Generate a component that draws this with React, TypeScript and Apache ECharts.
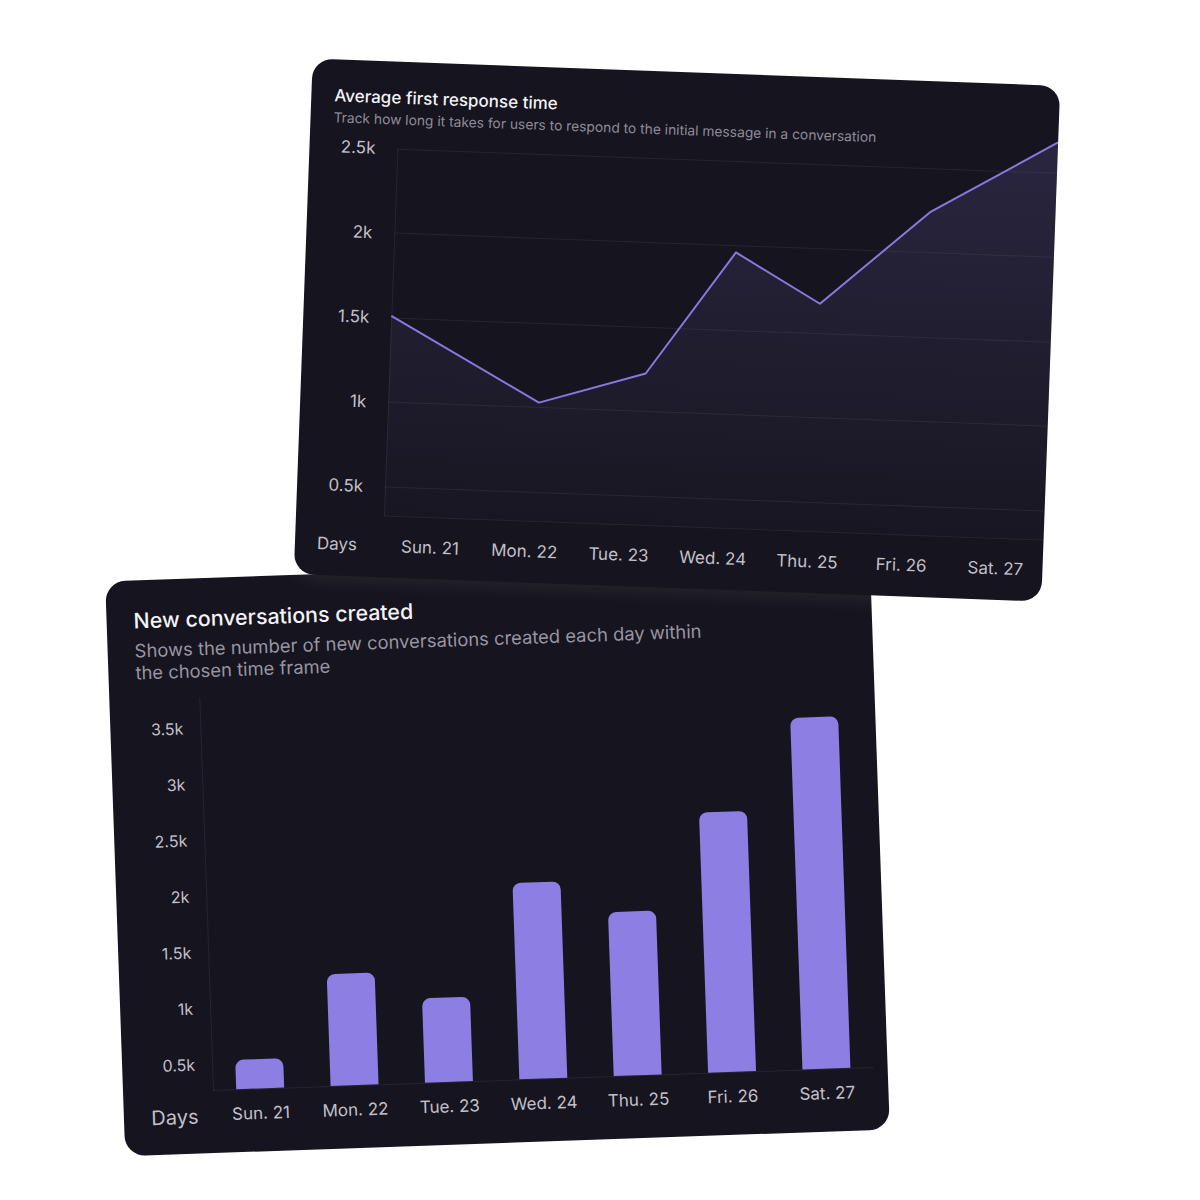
import React, { useEffect, useRef } from 'react';
import * as echarts from 'echarts';

const FONT = 'Inter, "Noto Sans", sans-serif';
const GRID_LINE = 'rgba(255,255,255,0.07)';
const LABEL = '#c3c0ca';
const ACCENT = '#8c7ee2';

const days = ['Sun. 21', 'Mon. 22', 'Tue. 23', 'Wed. 24', 'Thu. 25', 'Fri. 26', 'Sat. 27'];

// first response time: sample position in days from Sun. 21, and value
const responseDayOffset = [0, 1.37, 2.33, 3.11, 3.89, 4.86, 6];
const responseTime = [1510, 1030, 1225, 1960, 1675, 2240, 2680];
const responseTicks = [500, 1000, 1500, 2000, 2500];

// new conversations per day
const conversations = [530, 1265, 1020, 2020, 1730, 2590, 3405];
const conversationTicks = [500, 1000, 1500, 2000, 2500, 3000, 3500];

const kFormat = (v: number) => `${v / 1000}k`;

const Chart: React.FC<{ option: any; width: number; height: number }> = ({ option, width, height }) => {
  const ref = useRef<HTMLDivElement>(null);

  useEffect(() => {
    if (!ref.current) return;
    const chart = echarts.init(ref.current, null, { renderer: 'svg' });
    chart.setOption(option);
    return () => {
      chart.dispose();
    };
  }, [option]);

  return <div ref={ref} style={{ width, height }} />;
};

const responseOption = {
  animation: false,
  backgroundColor: 'transparent',
  title: {
    text: 'Average first response time',
    subtext: 'Track how long it takes for users to respond to the initial message in a conversation',
    left: 18,
    top: 22,
    itemGap: 6,
    textStyle: { color: '#f3f2f6', fontSize: 17, fontWeight: 500, fontFamily: FONT, lineHeight: 18 },
    subtextStyle: { color: '#8f8c99', fontSize: 13.8, fontFamily: FONT, lineHeight: 14 },
  },
  grid: { left: 88, top: 87, right: 0, height: 367, outerBoundsMode: 'none' },
  xAxis: [
    { type: 'value', min: 0, max: 6, show: false },
    {
      type: 'category',
      data: days,
      position: 'bottom',
      boundaryGap: true,
      axisLine: { show: true, lineStyle: { color: GRID_LINE } },
      axisTick: { show: false },
      axisLabel: { color: LABEL, fontSize: 17, margin: 22, fontFamily: FONT, interval: 0 },
    },
  ],
  yAxis: {
    type: 'value',
    min: 330,
    max: 2500,
    axisLine: { show: true, lineStyle: { color: GRID_LINE } },
    axisTick: { show: false, customValues: responseTicks },
    axisLabel: { customValues: responseTicks, formatter: kFormat, color: LABEL, fontSize: 17, margin: 22, fontFamily: FONT },
    splitLine: { show: true, lineStyle: { color: GRID_LINE } },
  },
  graphic: [
    {
      type: 'text',
      x: 42,
      y: 484,
      style: { text: 'Days', fill: LABEL, fontSize: 17, fontFamily: FONT, align: 'center', verticalAlign: 'middle' },
    },
  ],
  series: [
    {
      type: 'line',
      xAxisIndex: 0,
      data: responseDayOffset.map((d, i) => [d, responseTime[i]]),
      symbol: 'none',
      clip: false,
      lineStyle: { color: '#8878e0', width: 2, join: 'round' },
      areaStyle: {
        origin: 'start',
        color: new echarts.graphic.LinearGradient(0, 0, 0, 1, [
          { offset: 0, color: 'rgba(140,124,230,0.24)' },
          { offset: 1, color: 'rgba(140,124,230,0.03)' },
        ]),
      },
    },
  ],
};

const conversationOption = {
  animation: false,
  backgroundColor: 'transparent',
  title: {
    text: 'New conversations created',
    subtext: 'Shows the number of new conversations created each day within\nthe chosen time frame',
    left: 22,
    top: 24,
    itemGap: 8,
    textStyle: { color: '#f3f2f6', fontSize: 21.4, fontWeight: 500, fontFamily: FONT, lineHeight: 22 },
    subtextStyle: { color: '#9895a2', fontSize: 18.4, fontFamily: FONT, lineHeight: 22 },
  },
  grid: { left: 90, right: 14, top: 120, bottom: 63, outerBoundsMode: 'none' },
  xAxis: {
    type: 'category',
    data: days,
    axisLine: { show: true, lineStyle: { color: GRID_LINE } },
    axisTick: { show: false },
    axisLabel: { color: LABEL, fontSize: 17, margin: 16, fontFamily: FONT, interval: 0 },
  },
  yAxis: {
    type: 'value',
    min: 268,
    max: 3764,
    axisLine: { show: true, lineStyle: { color: GRID_LINE } },
    axisTick: { show: false, customValues: conversationTicks },
    axisLabel: { customValues: conversationTicks, formatter: kFormat, color: LABEL, fontSize: 16, margin: 17, fontFamily: FONT },
    splitLine: { show: false },
  },
  graphic: [
    {
      type: 'text',
      x: 51,
      y: 538,
      style: { text: 'Days', fill: LABEL, fontSize: 20, fontFamily: FONT, align: 'center', verticalAlign: 'middle' },
    },
  ],
  series: [
    {
      type: 'bar',
      data: conversations,
      barWidth: 48,
      clip: true,
      itemStyle: { color: ACCENT, borderRadius: [8, 8, 0, 0] },
    },
  ],
};

const cardStyle = (left: number, top: number, width: number, height: number, angle: number, z: number): React.CSSProperties => ({
  position: 'absolute',
  left,
  top,
  width,
  height,
  transform: `rotate(${angle}deg)`,
  borderRadius: 20,
  overflow: 'hidden',
  background: '#16141e',
  zIndex: z,
});

const App: React.FC = () => {
  return (
    <div style={{ position: 'fixed', left: 0, top: 0, width: 1200, height: 1200, background: '#ffffff', overflow: 'hidden' }}>
      <div style={cardStyle(115, 568, 765, 575, -2, 1)}>
        <Chart option={conversationOption} width={765} height={575} />
      </div>
      <div style={{ ...cardStyle(303, 72, 748, 516, 2.1, 2), boxShadow: '0 4px 20px rgba(255,255,255,0.08)' }}>
        <Chart option={responseOption} width={748} height={516} />
      </div>
    </div>
  );
};

export default App;
